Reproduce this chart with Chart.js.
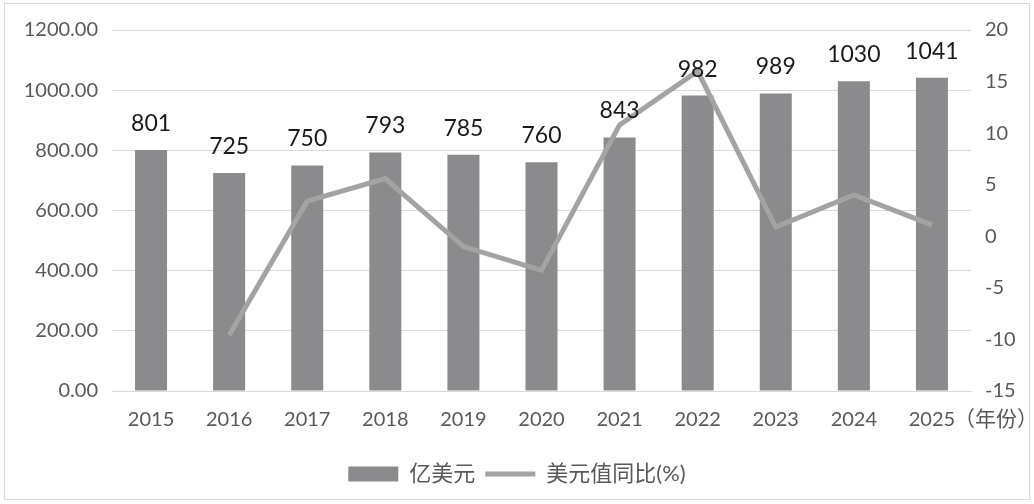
<!DOCTYPE html>
<html>
<head>
<meta charset="utf-8">
<script src="https://cdn.jsdelivr.net/npm/chart.js@4.4.1/dist/chart.umd.min.js"></script>
<style>
  html, body { margin: 0; padding: 0; background: #fff; }
  #wrap { position: absolute; left: 4px; top: 3px; width: 1026px; height: 497px; border: 1px solid #d9d9d9; box-sizing: border-box; }
  canvas { display: block; }
</style>
</head>
<body>
<div id="wrap"><canvas id="chart"></canvas></div>
<script>
const years = ['2015', '2016', '2017', '2018', '2019', '2020', '2021', '2022', '2023', '2024', '2025'];
const amounts = [801, 725, 750, 793, 785, 760, 843, 982, 989, 1030, 1041];
const growth = [null, -9.6, 3.4, 5.6, -1.0, -3.3, 10.8, 16.0, 0.9, 4.0, 1.1];
const leftTicks = [0, 200, 400, 600, 800, 1000, 1200];
const rightTicks = [-15, -10, -5, 0, 5, 10, 15, 20];

const FONT = 'Lato, "Noto Sans CJK SC", sans-serif';

const extras = {
  id: 'extras',
  afterDatasetsDraw(chart) {
    const ctx = chart.ctx;
    const meta = chart.getDatasetMeta(1);
    ctx.save();
    ctx.font = '23px ' + FONT;
    ctx.fillStyle = '#1a1a1a';
    ctx.textAlign = 'center';
    ctx.textBaseline = 'alphabetic';
    meta.data.forEach((bar, i) => {
      ctx.fillText(String(amounts[i]), bar.x, bar.y - 19);
    });
    ctx.restore();
  },
  afterDraw(chart) {
    const ctx = chart.ctx;
    const x = chart.scales.x;
    ctx.save();
    ctx.font = '21px ' + FONT;
    ctx.fillStyle = '#595959';
    ctx.textAlign = 'left';
    ctx.textBaseline = 'middle';
    ctx.fillText('（年份）', chart.chartArea.right - 17, x.top + 28);
    ctx.restore();
  }
};

new Chart(document.getElementById('chart'), {
  data: {
    labels: years,
    datasets: [
      {
        type: 'line',
        label: '美元值同比(%)',
        data: growth,
        yAxisID: 'y1',
        borderColor: '#a3a3a3',
        backgroundColor: '#a3a3a3',
        borderWidth: 5,
        pointRadius: 0,
        tension: 0,
        order: 0
      },
      {
        type: 'bar',
        label: '亿美元',
        data: amounts,
        yAxisID: 'y',
        backgroundColor: '#8b8b8d',
        barPercentage: 0.41,
        categoryPercentage: 1,
        order: 1
      }
    ]
  },
  options: {
    responsive: true,
    maintainAspectRatio: false,
    animation: false,
    layout: { padding: { top: 18, left: 0, right: 0, bottom: 4 } },
    plugins: {
      tooltip: { enabled: false },
      legend: {
        position: 'bottom',
        reverse: true,
        labels: {
          usePointStyle: true,
          pointStyle: 'rect',
          pointStyleWidth: 50,
          boxHeight: 15,
          padding: 10,
          color: '#595959',
          font: { family: FONT, size: 22 },
          generateLabels(chart) {
            const items = Chart.defaults.plugins.legend.labels.generateLabels(chart);
            items.forEach(it => {
              const ds = chart.data.datasets[it.datasetIndex];
              it.pointStyle = ds.type === 'line' ? 'line' : 'rect';
              it.lineWidth = ds.type === 'line' ? 5 : 0;
              it.strokeStyle = ds.borderColor || ds.backgroundColor;
            });
            return items;
          }
        }
      }
    },
    scales: {
      x: {
        grid: { display: false },
        border: { color: '#d9d9d9' },
        afterFit(scale) { scale.height = 62; },
        ticks: { color: '#595959', font: { family: FONT, size: 20 }, padding: 9 }
      },
      y: {
        position: 'left',
        min: 0,
        max: 1200,
        afterBuildTicks(scale) { scale.ticks = leftTicks.map(v => ({ value: v })); },
        afterFit(scale) { scale.width = 107; },
        grid: { color: '#d9d9d9', lineWidth: 1, drawTicks: false },
        border: { display: false },
        ticks: { color: '#595959', font: { family: FONT, size: 20 }, padding: 14, callback: v => Number(v).toFixed(2) }
      },
      y1: {
        position: 'right',
        min: -15,
        max: 20,
        afterBuildTicks(scale) { scale.ticks = rightTicks.map(v => ({ value: v })); },
        afterFit(scale) { scale.width = 58; },
        grid: { display: false, drawTicks: false },
        border: { display: false },
        ticks: { color: '#595959', font: { family: FONT, size: 20 }, padding: 14 }
      }
    }
  },
  plugins: [extras]
});
</script>
</body>
</html>
